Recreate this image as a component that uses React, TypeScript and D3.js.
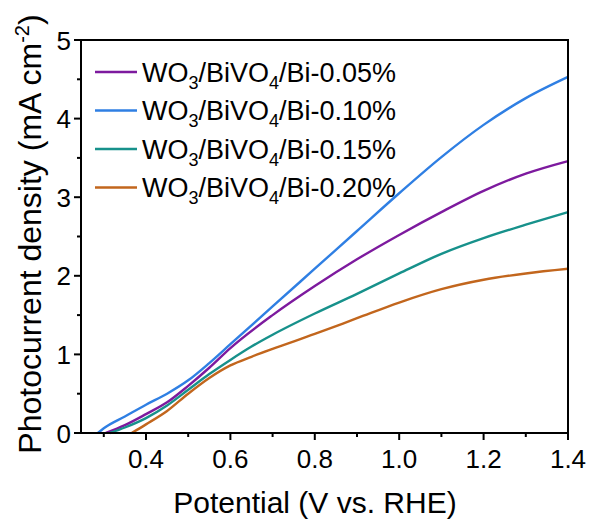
import React from "react";
import * as d3 from "d3";

const seriesNames = ["0.05%", "0.10%", "0.15%", "0.20%"];
const seriesColors = ["#7d1a9e", "#2f7fe3", "#17918b", "#c2661d"];

const v005 = [0.305, 0.35, 0.4, 0.45, 0.5, 0.55, 0.6, 0.7, 0.8, 0.9, 1.0, 1.1, 1.2, 1.3, 1.4];
const j005 = [0, 0.1, 0.24, 0.39, 0.6, 0.83, 1.08, 1.5, 1.87, 2.21, 2.52, 2.81, 3.08, 3.3, 3.46];

const v010 = [0.286, 0.3, 0.35, 0.4, 0.45, 0.5, 0.55, 0.6, 0.7, 0.8, 0.9, 1.0, 1.1, 1.2, 1.3, 1.4];
const j010 = [0, 0.06, 0.21, 0.36, 0.5, 0.67, 0.89, 1.13, 1.61, 2.09, 2.57, 3.05, 3.51, 3.92, 4.26, 4.53];

const v015 = [0.315, 0.35, 0.4, 0.45, 0.5, 0.55, 0.6, 0.65, 0.7, 0.8, 0.9, 1.0, 1.1, 1.2, 1.3, 1.4];
const j015 = [0, 0.07, 0.19, 0.35, 0.55, 0.75, 0.93, 1.1, 1.25, 1.52, 1.77, 2.03, 2.28, 2.48, 2.65, 2.81];

const v020 = [0.366, 0.4, 0.45, 0.5, 0.55, 0.6, 0.65, 0.7, 0.8, 0.9, 1.0, 1.1, 1.2, 1.3, 1.4];
const j020 = [0, 0.11, 0.28, 0.5, 0.7, 0.86, 0.97, 1.07, 1.26, 1.46, 1.66, 1.83, 1.95, 2.03, 2.09];

const xTicks = [0.4, 0.6, 0.8, 1.0, 1.2, 1.4];
const xMinor = [0.3, 0.5, 0.7, 0.9, 1.1, 1.3];
const yTicks = [0, 1, 2, 3, 4, 5];
const yMinor = [0.5, 1.5, 2.5, 3.5, 4.5];

const W = 592;
const H = 524;
const L = 81;
const R = 568;
const T = 40;
const B = 433;
const FONT = "'Liberation Sans', Arial, sans-serif";

export default function App() {
  const x = d3.scaleLinear().domain([0.246, 1.4]).range([L, R]);
  const y = d3.scaleLinear().domain([0, 5]).range([B, T]);
  const line = d3
    .line<[number, number]>()
    .x((d) => x(d[0]))
    .y((d) => y(d[1]))
    .curve(d3.curveMonotoneX);

  const series = [
    { v: v005, j: j005 },
    { v: v010, j: j010 },
    { v: v015, j: j015 },
    { v: v020, j: j020 },
  ];

  const legendY0 = 72;
  const legendDy = 38.5;

  return (
    <svg
      width={W}
      height={H}
      style={{ position: "absolute", left: 0, top: 0, background: "#fff" }}
      fontFamily={FONT}
    >
      <rect x={0} y={0} width={W} height={H} fill="#fff" />
      {series.map((s, i) => (
        <path
          key={i}
          d={line(s.v.map((v, k) => [v, s.j[k]] as [number, number])) || ""}
          fill="none"
          stroke={seriesColors[i]}
          strokeWidth={2.4}
        />
      ))}
      <rect x={L} y={T} width={R - L} height={B - T} fill="none" stroke="#000" strokeWidth={2} />
      {xTicks.map((t) => (
        <g key={"xt" + t}>
          <line x1={x(t)} x2={x(t)} y1={B} y2={B + 7} stroke="#000" strokeWidth={2} />
          <text x={x(t)} y={468} fontSize={26} textAnchor="middle" fill="#000">
            {t.toFixed(1)}
          </text>
        </g>
      ))}
      {xMinor.map((t) => (
        <line key={"xm" + t} x1={x(t)} x2={x(t)} y1={B} y2={B + 4} stroke="#000" strokeWidth={2} />
      ))}
      {yTicks.map((t) => (
        <g key={"yt" + t}>
          <line x1={L - 7} x2={L} y1={y(t)} y2={y(t)} stroke="#000" strokeWidth={2} />
          <text x={71} y={y(t) + 9.5} fontSize={26} textAnchor="end" fill="#000">
            {t}
          </text>
        </g>
      ))}
      {yMinor.map((t) => (
        <line key={"ym" + t} x1={L - 4} x2={L} y1={y(t)} y2={y(t)} stroke="#000" strokeWidth={2} />
      ))}
      <text x={315} y={513} fontSize={30} textAnchor="middle" fill="#000">
        Potential (V vs. RHE)
      </text>
      <text
        transform={`translate(41, 234) rotate(-90)`}
        fontSize={32}
        textAnchor="middle"
        fill="#000"
      >
        Photocurrent density (mA cm
        <tspan fontSize={20} dy={-12}>-2</tspan>
        <tspan dy={12}>)</tspan>
      </text>
      {seriesNames.map((n, i) => {
        const ly = legendY0 + i * legendDy;
        return (
          <g key={"lg" + i}>
            <line x1={95} x2={137} y1={ly} y2={ly} stroke={seriesColors[i]} strokeWidth={2.4} />
            <text x={142} y={ly + 9.8} fontSize={27} fill="#000">
              WO<tspan fontSize={18} dy={7}>3</tspan>
              <tspan dy={-7}>/BiVO</tspan>
              <tspan fontSize={18} dy={7}>4</tspan>
              <tspan dy={-7}>/Bi-{n}</tspan>
            </text>
          </g>
        );
      })}
    </svg>
  );
}
